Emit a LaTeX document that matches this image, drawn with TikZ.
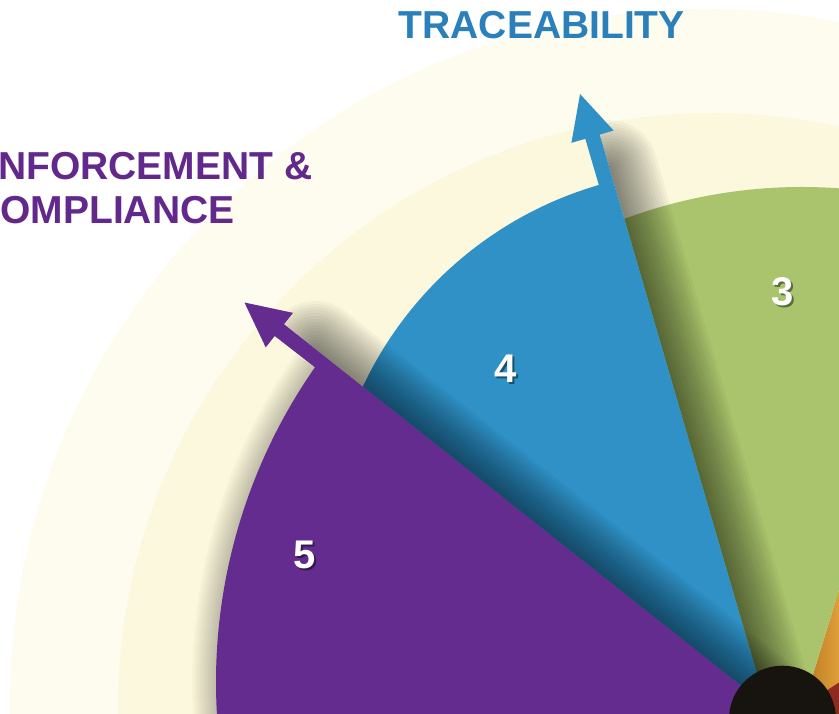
\documentclass[tikz,border=0pt]{standalone}
\usepackage{fontspec}
\setmainfont{Liberation Sans}
\usetikzlibrary{calc}
\definecolor{purp}{HTML}{632C8E}
\definecolor{blu}{HTML}{2F91C6}
\definecolor{grn}{HTML}{A9C46C}
\definecolor{orgD}{HTML}{B0701E}
\definecolor{orgL}{HTML}{E6A53C}
\definecolor{redc}{HTML}{8E2A1E}
\definecolor{bandout}{HTML}{FEFCEE}
\definecolor{bandin}{HTML}{FCF8DD}
\definecolor{hubc}{HTML}{17130F}
\definecolor{txtblue}{HTML}{2980BA}
\definecolor{txtpurp}{HTML}{62288C}
\tikzset{
  ttext/.style={font=\fontsize{39}{45}\selectfont\bfseries, inner sep=0pt, anchor=base west},
  digit/.style={font=\fontsize{40}{46}\selectfont\bfseries, inner sep=0pt, text=white},
  digitshadow/.style={font=\fontsize{40}{46}\selectfont\bfseries, inner sep=0pt, text=black, opacity=0.45},
  shadowstroke/.style={black, opacity=0.035, line width=#1, line cap=round},
  arcshadow/.style={black, opacity=0.02, line width=#1},
}
\begin{document}
\begin{tikzpicture}[x=1pt,y=1pt]
\useasboundingbox (0,0) rectangle (839,714);
\begin{scope}
\clip (0,0) rectangle (839,714);
\fill[white] (0,0) rectangle (839,714);
% background bands
\fill[bandout] (706,9) circle[radius=696];
\fill[bandin] (713,6) circle[radius=595];
\coordinate (A) at (766.3,8.2);
\coordinate (H) at (782.5,-5.2);
% orange and red sectors
\shade[left color=orgD, right color=orgL] (795,-10) -- (813.3,40.7) -- (839,124) -- (845,143.5) -- (845,-10) -- cycle;
\fill[redc] (H) -- (845,35.4) -- (845,-10) -- cycle;
% green sector
\fill[grn] (A) -- ($(802,16)+(112:511)$) arc[start angle=112, end angle=80, radius=511]
  -- (961,519) -- (839,124) -- (813.3,40.7) -- (800,-10) -- (760,-10) -- cycle;
% blue arrow geometry and its shadow
\begin{scope}[shift={(A)}, rotate=106.26]
  \coordinate (b1) at (595,0);
  \coordinate (b2) at (595,-14.5);
  \coordinate (b3) at (639.5,7.5);
  \coordinate (b4) at (595,29.5);
  \coordinate (b5) at (595,15);
  \clip (-60,0) rectangle (700,-120);
  \foreach \w in {6,12,...,96} \draw[shadowstroke=\w pt] (-30,0) -- (560,0);
\end{scope}
% blue sector
\fill[blu] (A) -- (b1) -- (b2) -- (b3) -- (b4) -- (b5) -- ($(704,167)+(106.2:377)$)
  arc[start angle=106.2, end angle=158, radius=377] -- cycle;
% purple arrow geometry and its shadow
\begin{scope}[shift={(A)}, rotate=141.65]
  \coordinate (p1) at (615,0);
  \coordinate (p2) at (615,-14.5);
  \coordinate (p3) at (659.5,7.5);
  \coordinate (p4) at (615,29.5);
  \coordinate (p5) at (615,15);
  \clip (-60,0) rectangle (700,-120);
  \foreach \w in {6,12,...,96} \draw[shadowstroke=\w pt] (-30,0) -- (575,0);
\end{scope}
\foreach \w in {4,8,...,48} \draw[arcshadow=\w pt] ($(766,32)+(145.1:550)$) arc[start angle=145.1, end angle=186, radius=550];
% purple sector
\fill[purp] (A) -- (p1) -- (p2) -- (p3) -- (p4) -- (p5) -- ($(766,32)+(145.1:550)$)
  arc[start angle=145.1, end angle=186, radius=550] -- (766,-20) -- cycle;
% hub
\fill[hubc] (H) circle[radius=53.5];
% numbers
\node[digitshadow] at (306.4,157.4) {5};
\node[digit] (n5) at (304.7,159.3) {5};
\node[digitshadow] at (507.5,343.1) {4};
\node[digit] (n4) at (505.8,345) {4};
\node[digitshadow] at (784.7,420.4) {3};
\node[digit] (n3) at (783,422.3) {3};
% titles
\node[ttext, text=txtblue] (trace) at (398.5,675.7) {TRACEABILITY};
\node[ttext, text=txtpurp] (enf1) at (-28,534.7) {ENFORCEMENT \&};
\node[ttext, text=txtpurp] (enf2) at (-28,490.5) {COMPLIANCE};
\end{scope}
\end{tikzpicture}
\end{document}
